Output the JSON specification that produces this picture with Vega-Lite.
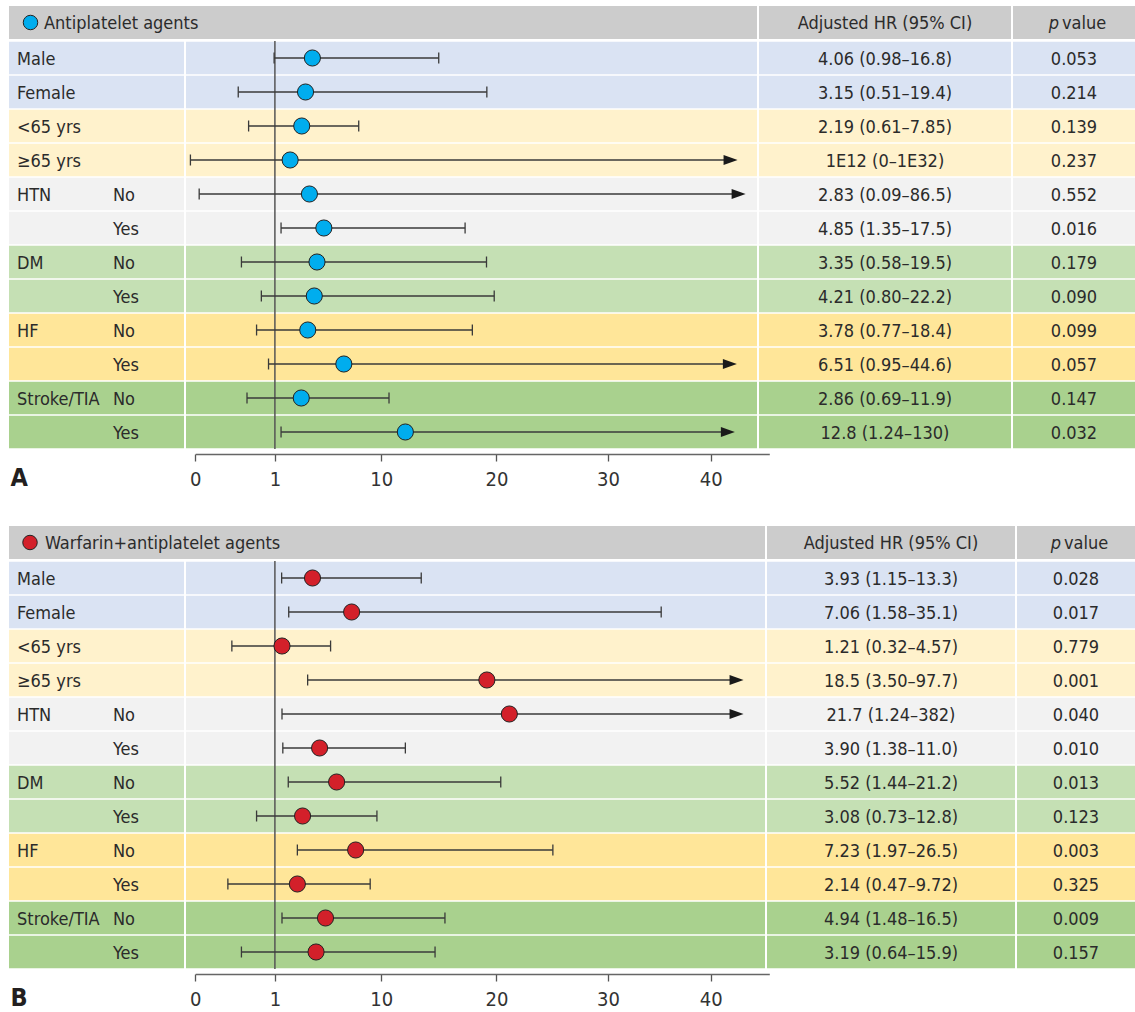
{
  "$schema": "https://vega.github.io/schema/vega-lite/v6.json",
  "background": "white",
  "padding": {"left": 9, "top": 6, "right": 0, "bottom": 40},
  "datasets": {
    "A": [
      {"row": "Male", "grp": "Male", "sub": "", "cat": "sex", "hr": 4.17, "lo": 0.99, "hi": 14.99, "arrow": false, "ci": "4.06 (0.98–16.8)", "p": "0.053"},
      {"row": "Female", "grp": "Female", "sub": "", "cat": "sex", "hr": 3.59, "lo": 0.54, "hi": 19.17, "arrow": false, "ci": "3.15 (0.51–19.4)", "p": "0.214"},
      {"row": "<65 yrs", "grp": "<65 yrs", "sub": "", "cat": "age", "hr": 3.27, "lo": 0.67, "hi": 8.09, "arrow": false, "ci": "2.19 (0.61–7.85)", "p": "0.139"},
      {"row": "≥65 yrs", "grp": "≥65 yrs", "sub": "", "cat": "age", "hr": 2.29, "lo": -0.06, "hi": 41.9, "arrow": true, "ci": "1E12 (0–1E32)", "p": "0.237"},
      {"row": "HTN No", "grp": "HTN", "sub": "No", "cat": "htn", "hr": 3.92, "lo": 0.05, "hi": 42.67, "arrow": true, "ci": "2.83 (0.09–86.5)", "p": "0.552"},
      {"row": "HTN Yes", "grp": "", "sub": "Yes", "cat": "htn", "hr": 5.14, "lo": 1.52, "hi": 17.28, "arrow": false, "ci": "4.85 (1.35–17.5)", "p": "0.016"},
      {"row": "DM No", "grp": "DM", "sub": "No", "cat": "dm", "hr": 4.56, "lo": 0.58, "hi": 19.14, "arrow": false, "ci": "3.35 (0.58–19.5)", "p": "0.179"},
      {"row": "DM Yes", "grp": "", "sub": "Yes", "cat": "dm", "hr": 4.33, "lo": 0.83, "hi": 19.81, "arrow": false, "ci": "4.21 (0.80–22.2)", "p": "0.090"},
      {"row": "HF No", "grp": "HF", "sub": "No", "cat": "hf", "hr": 3.78, "lo": 0.77, "hi": 17.91, "arrow": false, "ci": "3.78 (0.77–18.4)", "p": "0.099"},
      {"row": "HF Yes", "grp": "", "sub": "Yes", "cat": "hf", "hr": 6.83, "lo": 0.92, "hi": 41.83, "arrow": true, "ci": "6.51 (0.95–44.6)", "p": "0.057"},
      {"row": "Stroke/TIA No", "grp": "Stroke/TIA", "sub": "No", "cat": "stroke", "hr": 3.23, "lo": 0.65, "hi": 10.67, "arrow": false, "ci": "2.86 (0.69–11.9)", "p": "0.147"},
      {"row": "Stroke/TIA Yes", "grp": "", "sub": "Yes", "cat": "stroke", "hr": 12.09, "lo": 1.52, "hi": 41.64, "arrow": true, "ci": "12.8 (1.24–130)", "p": "0.032"}
    ],
    "B": [
      {"row": "Male", "grp": "Male", "sub": "", "cat": "sex", "hr": 4.18, "lo": 1.57, "hi": 13.47, "arrow": false, "ci": "3.93 (1.15–13.3)", "p": "0.028"},
      {"row": "Female", "grp": "Female", "sub": "", "cat": "sex", "hr": 7.49, "lo": 2.17, "hi": 35.18, "arrow": false, "ci": "7.06 (1.58–35.1)", "p": "0.017"},
      {"row": "<65 yrs", "grp": "<65 yrs", "sub": "", "cat": "age", "hr": 1.6, "lo": 0.46, "hi": 5.71, "arrow": false, "ci": "1.21 (0.32–4.57)", "p": "0.779"},
      {"row": "≥65 yrs", "grp": "≥65 yrs", "sub": "", "cat": "age", "hr": 19.17, "lo": 3.77, "hi": 42.47, "arrow": true, "ci": "18.5 (3.50–97.7)", "p": "0.001"},
      {"row": "HTN No", "grp": "HTN", "sub": "No", "cat": "htn", "hr": 21.16, "lo": 1.6, "hi": 42.47, "arrow": true, "ci": "21.7 (1.24–382)", "p": "0.040"},
      {"row": "HTN Yes", "grp": "", "sub": "Yes", "cat": "htn", "hr": 4.78, "lo": 1.67, "hi": 12.09, "arrow": false, "ci": "3.90 (1.38–11.0)", "p": "0.010"},
      {"row": "DM No", "grp": "DM", "sub": "No", "cat": "dm", "hr": 6.22, "lo": 2.13, "hi": 20.39, "arrow": false, "ci": "5.52 (1.44–21.2)", "p": "0.013"},
      {"row": "DM Yes", "grp": "", "sub": "Yes", "cat": "dm", "hr": 3.34, "lo": 0.77, "hi": 9.63, "arrow": false, "ci": "3.08 (0.73–12.8)", "p": "0.123"},
      {"row": "HF No", "grp": "HF", "sub": "No", "cat": "hf", "hr": 7.83, "lo": 2.9, "hi": 25.06, "arrow": false, "ci": "7.23 (1.97–26.5)", "p": "0.003"},
      {"row": "HF Yes", "grp": "", "sub": "Yes", "cat": "hf", "hr": 2.9, "lo": 0.41, "hi": 9.06, "arrow": false, "ci": "2.14 (0.47–9.72)", "p": "0.325"},
      {"row": "Stroke/TIA No", "grp": "Stroke/TIA", "sub": "No", "cat": "stroke", "hr": 5.28, "lo": 1.6, "hi": 15.53, "arrow": false, "ci": "4.94 (1.48–16.5)", "p": "0.009"},
      {"row": "Stroke/TIA Yes", "grp": "", "sub": "Yes", "cat": "stroke", "hr": 4.48, "lo": 0.58, "hi": 14.67, "arrow": false, "ci": "3.19 (0.64–15.9)", "p": "0.157"}
    ]
  },
  "spacing": 36,
  "vconcat": [
    {
      "spacing": 1,
      "vconcat": [
        {
          "bounds": "flush",
          "spacing": 2,
          "hconcat": [
            {
              "width": 748, "height": 33,
              "view": {"fill": "#cccccc", "stroke": null},
              "data": {"values": [{"t": "Antiplatelet agents"}]},
              "layer": [
                {"mark": {"type": "circle", "size": 210, "fill": "#00adee", "stroke": "#222222", "strokeWidth": 1, "opacity": 1},
                 "encoding": {"x": {"datum": 21.5, "type": "quantitative", "scale": {"domain": [0, 748], "nice": false, "zero": false}, "axis": null}}},
                {"mark": {"type": "text", "align": "left", "dy": 1.5},
                 "encoding": {"x": {"datum": 35, "type": "quantitative"}, "text": {"field": "t"}}}
              ]
            },
            {
              "width": 252, "height": 33,
              "view": {"fill": "#cccccc", "stroke": null},
              "data": {"values": [{"t": "Adjusted HR (95% CI)"}]},
              "mark": {"type": "text", "dy": 1.5},
              "encoding": {"text": {"field": "t"}}
            },
            {
              "width": 122, "height": 33,
              "view": {"fill": "#cccccc", "stroke": null},
              "data": {"values": [{"a": "p", "b": "value"}]},
              "layer": [
                {"mark": {"type": "text", "align": "right", "dx": -15, "dy": 1.5, "fontStyle": "italic"}, "encoding": {"text": {"field": "a"}}},
                {"mark": {"type": "text", "align": "left", "dx": -12, "dy": 1.5}, "encoding": {"text": {"field": "b"}}}
              ]
            }
          ]
        },
        {
          "bounds": "flush",
          "spacing": 2,
          "hconcat": [
            {
              "width": 175, "height": 408,
              "data": {"name": "A"},
              "layer": [
                {"mark": {"type": "rect"},
                 "encoding": {
                   "y": {"field": "row", "type": "nominal", "sort": null, "axis": null, "scale": {"paddingInner": 0.04, "paddingOuter": 0.02}},
                   "fill": {"field": "cat", "type": "nominal", "legend": null, "scale": {"domain": ["sex", "age", "htn", "dm", "hf", "stroke"], "range": ["#dae3f3", "#fff2cc", "#f2f2f2", "#c5e0b4", "#ffe699", "#a9d18e"]}}
                 }},
                {"mark": {"type": "text", "align": "left", "dy": 1.5},
                 "encoding": {
                   "y": {"field": "row", "type": "nominal", "sort": null, "axis": null},
                   "x": {"datum": 8, "type": "quantitative", "scale": {"domain": [0, 175], "nice": false, "zero": false},
                         "axis": {"orient": "bottom", "offset": 5, "labels": false, "ticks": false, "domain": false, "grid": false, "title": "A", "titleAnchor": "start", "titleAlign": "left", "titleX": 1, "titleY": 23, "titleBaseline": "middle", "titleFontSize": 25, "titleFontWeight": "bold", "titleColor": "#231f20"}},
                   "text": {"field": "grp"}
                 }},
                {"mark": {"type": "text", "align": "left", "dy": 1.5},
                 "encoding": {
                   "y": {"field": "row", "type": "nominal", "sort": null, "axis": null},
                   "x": {"datum": 104, "type": "quantitative"},
                   "text": {"field": "sub"}
                 }}
              ]
            },
            {
              "width": 571, "height": 408,
              "data": {"name": "A"},
              "layer": [
                {"mark": {"type": "rect"},
                 "encoding": {
                   "y": {"field": "row", "type": "nominal", "sort": null, "axis": null, "scale": {"paddingInner": 0.04, "paddingOuter": 0.02}},
                   "fill": {"field": "cat", "type": "nominal", "legend": null, "scale": {"domain": ["sex", "age", "htn", "dm", "hf", "stroke"], "range": ["#dae3f3", "#fff2cc", "#f2f2f2", "#c5e0b4", "#ffe699", "#a9d18e"]}}
                 }},
                {"data": {"values": [{}]},
                 "mark": {"type": "rule", "color": "#555555", "strokeWidth": 1.5},
                 "encoding": {"x": {"datum": 1, "type": "quantitative", "title": null,
                   "scale": {"domain": [0, 1, 10, 20, 30, 40, 45.6], "range": [9.2, 88.9, 195.3, 310.4, 422, 524.7, 583.3], "nice": false, "zero": false},
                   "axis": {"values": [0, 1, 10, 20, 30, 40], "format": "d", "title": null, "grid": false, "orient": "bottom", "offset": 5, "tickSize": 7, "tickWidth": 1.3, "tickColor": "#555555", "domainColor": "#666666", "domainWidth": 1.5, "labelFontSize": 20, "labelColor": "#333333", "labelPadding": 8, "labelFlush": false, "labelOverlap": false}}}},
                {"mark": {"type": "rule", "color": "#3a3a3a", "strokeWidth": 1.5},
                 "encoding": {
                   "y": {"field": "row", "type": "nominal", "sort": null, "axis": null},
                   "x": {"field": "lo", "type": "quantitative", "title": null},
                   "x2": {"field": "hi"}
                 }},
                {"mark": {"type": "tick", "size": 11, "thickness": 1.3, "color": "#3a3a3a", "opacity": 1},
                 "encoding": {
                   "y": {"field": "row", "type": "nominal", "sort": null, "axis": null},
                   "x": {"field": "lo", "type": "quantitative", "title": null}
                 }},
                {"transform": [{"filter": "!datum.arrow"}],
                 "mark": {"type": "tick", "size": 11, "thickness": 1.3, "color": "#3a3a3a", "opacity": 1},
                 "encoding": {
                   "y": {"field": "row", "type": "nominal", "sort": null, "axis": null},
                   "x": {"field": "hi", "type": "quantitative", "title": null}
                 }},
                {"transform": [{"filter": "datum.arrow"}],
                 "mark": {"type": "point", "shape": "M1,0L-1,-0.7L-1,0.7Z", "size": 196, "filled": true, "color": "#1a1a1a", "opacity": 1},
                 "encoding": {
                   "y": {"field": "row", "type": "nominal", "sort": null, "axis": null},
                   "x": {"field": "hi", "type": "quantitative", "title": null}
                 }},
                {"mark": {"type": "circle", "size": 260, "fill": "#00adee", "stroke": "#222222", "strokeWidth": 1, "opacity": 1},
                 "encoding": {
                   "y": {"field": "row", "type": "nominal", "sort": null, "axis": null},
                   "x": {"field": "hr", "type": "quantitative", "title": null}
                 }}
              ]
            },
            {
              "width": 252, "height": 408,
              "data": {"name": "A"},
              "layer": [
                {"mark": {"type": "rect"},
                 "encoding": {
                   "y": {"field": "row", "type": "nominal", "sort": null, "axis": null, "scale": {"paddingInner": 0.04, "paddingOuter": 0.02}},
                   "fill": {"field": "cat", "type": "nominal", "legend": null, "scale": {"domain": ["sex", "age", "htn", "dm", "hf", "stroke"], "range": ["#dae3f3", "#fff2cc", "#f2f2f2", "#c5e0b4", "#ffe699", "#a9d18e"]}}
                 }},
                {"mark": {"type": "text", "dy": 1.5},
                 "encoding": {
                   "y": {"field": "row", "type": "nominal", "sort": null, "axis": null},
                   "text": {"field": "ci"}
                 }}
              ]
            },
            {
              "width": 122, "height": 408,
              "data": {"name": "A"},
              "layer": [
                {"mark": {"type": "rect"},
                 "encoding": {
                   "y": {"field": "row", "type": "nominal", "sort": null, "axis": null, "scale": {"paddingInner": 0.04, "paddingOuter": 0.02}},
                   "fill": {"field": "cat", "type": "nominal", "legend": null, "scale": {"domain": ["sex", "age", "htn", "dm", "hf", "stroke"], "range": ["#dae3f3", "#fff2cc", "#f2f2f2", "#c5e0b4", "#ffe699", "#a9d18e"]}}
                 }},
                {"mark": {"type": "text", "dy": 1.5},
                 "encoding": {
                   "y": {"field": "row", "type": "nominal", "sort": null, "axis": null},
                   "text": {"field": "p"}
                 }}
              ]
            }
          ]
        }
      ]
    },
    {
      "spacing": 1,
      "vconcat": [
        {
          "bounds": "flush",
          "spacing": 2,
          "hconcat": [
            {
              "width": 756, "height": 33,
              "view": {"fill": "#cccccc", "stroke": null},
              "data": {"values": [{"t": "Warfarin+antiplatelet agents"}]},
              "layer": [
                {"mark": {"type": "circle", "size": 210, "fill": "#d3202a", "stroke": "#222222", "strokeWidth": 1, "opacity": 1},
                 "encoding": {"x": {"datum": 21, "type": "quantitative", "scale": {"domain": [0, 756], "nice": false, "zero": false}, "axis": null}}},
                {"mark": {"type": "text", "align": "left", "dy": 1.5},
                 "encoding": {"x": {"datum": 36, "type": "quantitative"}, "text": {"field": "t"}}}
              ]
            },
            {
              "width": 248, "height": 33,
              "view": {"fill": "#cccccc", "stroke": null},
              "data": {"values": [{"t": "Adjusted HR (95% CI)"}]},
              "mark": {"type": "text", "dy": 1.5},
              "encoding": {"text": {"field": "t"}}
            },
            {
              "width": 118, "height": 33,
              "view": {"fill": "#cccccc", "stroke": null},
              "data": {"values": [{"a": "p", "b": "value"}]},
              "layer": [
                {"mark": {"type": "text", "align": "right", "dx": -15, "dy": 1.5, "fontStyle": "italic"}, "encoding": {"text": {"field": "a"}}},
                {"mark": {"type": "text", "align": "left", "dx": -12, "dy": 1.5}, "encoding": {"text": {"field": "b"}}}
              ]
            }
          ]
        },
        {
          "bounds": "flush",
          "spacing": 2,
          "hconcat": [
            {
              "width": 175, "height": 408,
              "data": {"name": "B"},
              "layer": [
                {"mark": {"type": "rect"},
                 "encoding": {
                   "y": {"field": "row", "type": "nominal", "sort": null, "axis": null, "scale": {"paddingInner": 0.04, "paddingOuter": 0.02}},
                   "fill": {"field": "cat", "type": "nominal", "legend": null, "scale": {"domain": ["sex", "age", "htn", "dm", "hf", "stroke"], "range": ["#dae3f3", "#fff2cc", "#f2f2f2", "#c5e0b4", "#ffe699", "#a9d18e"]}}
                 }},
                {"mark": {"type": "text", "align": "left", "dy": 1.5},
                 "encoding": {
                   "y": {"field": "row", "type": "nominal", "sort": null, "axis": null},
                   "x": {"datum": 8, "type": "quantitative", "scale": {"domain": [0, 175], "nice": false, "zero": false},
                         "axis": {"orient": "bottom", "offset": 5, "labels": false, "ticks": false, "domain": false, "grid": false, "title": "B", "titleAnchor": "start", "titleAlign": "left", "titleX": 1, "titleY": 23, "titleBaseline": "middle", "titleFontSize": 25, "titleFontWeight": "bold", "titleColor": "#231f20"}},
                   "text": {"field": "grp"}
                 }},
                {"mark": {"type": "text", "align": "left", "dy": 1.5},
                 "encoding": {
                   "y": {"field": "row", "type": "nominal", "sort": null, "axis": null},
                   "x": {"datum": 104, "type": "quantitative"},
                   "text": {"field": "sub"}
                 }}
              ]
            },
            {
              "width": 579, "height": 408,
              "data": {"name": "B"},
              "layer": [
                {"mark": {"type": "rect"},
                 "encoding": {
                   "y": {"field": "row", "type": "nominal", "sort": null, "axis": null, "scale": {"paddingInner": 0.04, "paddingOuter": 0.02}},
                   "fill": {"field": "cat", "type": "nominal", "legend": null, "scale": {"domain": ["sex", "age", "htn", "dm", "hf", "stroke"], "range": ["#dae3f3", "#fff2cc", "#f2f2f2", "#c5e0b4", "#ffe699", "#a9d18e"]}}
                 }},
                {"data": {"values": [{}]},
                 "mark": {"type": "rule", "color": "#555555", "strokeWidth": 1.5},
                 "encoding": {"x": {"datum": 1, "type": "quantitative", "title": null,
                   "scale": {"domain": [0, 1, 10, 20, 30, 40, 45.6], "range": [9.2, 88.9, 195.3, 310.4, 422, 524.7, 583.3], "nice": false, "zero": false},
                   "axis": {"values": [0, 1, 10, 20, 30, 40], "format": "d", "title": null, "grid": false, "orient": "bottom", "offset": 5, "tickSize": 7, "tickWidth": 1.3, "tickColor": "#555555", "domainColor": "#666666", "domainWidth": 1.5, "labelFontSize": 20, "labelColor": "#333333", "labelPadding": 8, "labelFlush": false, "labelOverlap": false}}}},
                {"mark": {"type": "rule", "color": "#3a3a3a", "strokeWidth": 1.5},
                 "encoding": {
                   "y": {"field": "row", "type": "nominal", "sort": null, "axis": null},
                   "x": {"field": "lo", "type": "quantitative", "title": null},
                   "x2": {"field": "hi"}
                 }},
                {"mark": {"type": "tick", "size": 11, "thickness": 1.3, "color": "#3a3a3a", "opacity": 1},
                 "encoding": {
                   "y": {"field": "row", "type": "nominal", "sort": null, "axis": null},
                   "x": {"field": "lo", "type": "quantitative", "title": null}
                 }},
                {"transform": [{"filter": "!datum.arrow"}],
                 "mark": {"type": "tick", "size": 11, "thickness": 1.3, "color": "#3a3a3a", "opacity": 1},
                 "encoding": {
                   "y": {"field": "row", "type": "nominal", "sort": null, "axis": null},
                   "x": {"field": "hi", "type": "quantitative", "title": null}
                 }},
                {"transform": [{"filter": "datum.arrow"}],
                 "mark": {"type": "point", "shape": "M1,0L-1,-0.7L-1,0.7Z", "size": 196, "filled": true, "color": "#1a1a1a", "opacity": 1},
                 "encoding": {
                   "y": {"field": "row", "type": "nominal", "sort": null, "axis": null},
                   "x": {"field": "hi", "type": "quantitative", "title": null}
                 }},
                {"mark": {"type": "circle", "size": 260, "fill": "#d3202a", "stroke": "#222222", "strokeWidth": 1, "opacity": 1},
                 "encoding": {
                   "y": {"field": "row", "type": "nominal", "sort": null, "axis": null},
                   "x": {"field": "hr", "type": "quantitative", "title": null}
                 }}
              ]
            },
            {
              "width": 248, "height": 408,
              "data": {"name": "B"},
              "layer": [
                {"mark": {"type": "rect"},
                 "encoding": {
                   "y": {"field": "row", "type": "nominal", "sort": null, "axis": null, "scale": {"paddingInner": 0.04, "paddingOuter": 0.02}},
                   "fill": {"field": "cat", "type": "nominal", "legend": null, "scale": {"domain": ["sex", "age", "htn", "dm", "hf", "stroke"], "range": ["#dae3f3", "#fff2cc", "#f2f2f2", "#c5e0b4", "#ffe699", "#a9d18e"]}}
                 }},
                {"mark": {"type": "text", "dy": 1.5},
                 "encoding": {
                   "y": {"field": "row", "type": "nominal", "sort": null, "axis": null},
                   "text": {"field": "ci"}
                 }}
              ]
            },
            {
              "width": 118, "height": 408,
              "data": {"name": "B"},
              "layer": [
                {"mark": {"type": "rect"},
                 "encoding": {
                   "y": {"field": "row", "type": "nominal", "sort": null, "axis": null, "scale": {"paddingInner": 0.04, "paddingOuter": 0.02}},
                   "fill": {"field": "cat", "type": "nominal", "legend": null, "scale": {"domain": ["sex", "age", "htn", "dm", "hf", "stroke"], "range": ["#dae3f3", "#fff2cc", "#f2f2f2", "#c5e0b4", "#ffe699", "#a9d18e"]}}
                 }},
                {"mark": {"type": "text", "dy": 1.5},
                 "encoding": {
                   "y": {"field": "row", "type": "nominal", "sort": null, "axis": null},
                   "text": {"field": "p"}
                 }}
              ]
            }
          ]
        }
      ]
    }
  ],
  "config": {
    "view": {"stroke": null},
    "font": "DejaVu Sans Condensed, Roboto, sans-serif",
    "text": {"font": "DejaVu Sans Condensed, Roboto, sans-serif", "fontSize": 18, "color": "#2b2b2b", "baseline": "middle"},
    "axis": {"labelFont": "DejaVu Sans Condensed, Roboto, sans-serif", "titleFont": "DejaVu Sans Condensed, Roboto, sans-serif"}
  }
}
